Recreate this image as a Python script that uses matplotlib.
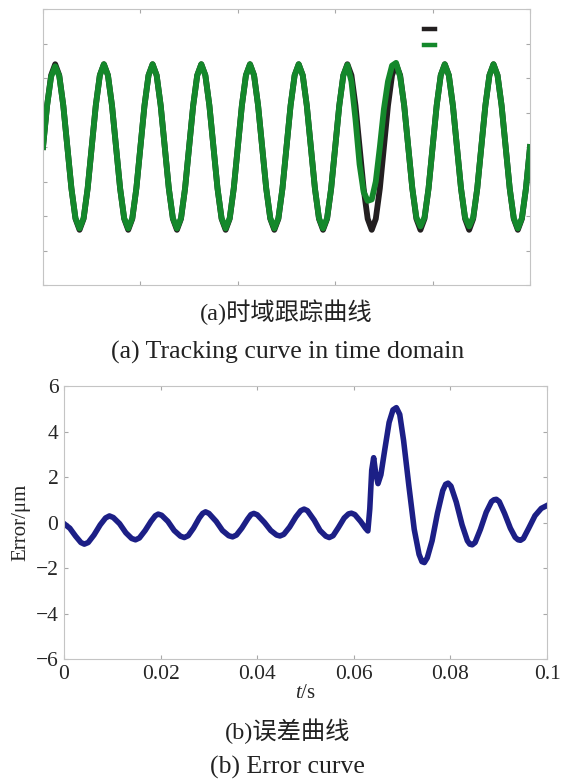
import numpy as np
import matplotlib.pyplot as plt

plt.rcParams['font.family'] = ['Liberation Serif', 'Noto Sans CJK SC']
plt.rcParams['mathtext.fontset'] = 'custom'
plt.rcParams['mathtext.rm'] = 'Liberation Serif'
plt.rcParams['mathtext.it'] = 'Liberation Serif:italic'

# --- (a) tracking in time domain, sampled every 1/1200 s (12 samples per 100 Hz period)
t_track = np.linspace(0, 0.1, 121)
reference = [
    0, 6, 10.4, 12, 10.4, 6, 0, -6, -10.4, -12, -10.4, -6,
    0, 6, 10.4, 12, 10.4, 6, 0, -6, -10.4, -12, -10.4, -6,
    0, 6, 10.4, 12, 10.4, 6, 0, -6, -10.4, -12, -10.4, -6,
    0, 6, 10.4, 12, 10.4, 6, 0, -6, -10.4, -12, -10.4, -6,
    0, 6, 10.4, 12, 10.4, 6, 0, -6, -10.4, -12, -10.4, -6,
    0, 6, 10.4, 12, 10.4, 6, 0, -6, -10.4, -12, -10.4, -6,
    0, 6, 10.4, 12, 10.4, 6, 0, -6, -10.4, -12, -10.4, -6,
    0, 6, 10.4, 12, 10.4, 6, 0, -6, -10.4, -12, -10.4, -6,
    0, 6, 10.4, 12, 10.4, 6, 0, -6, -10.4, -12, -10.4, -6,
    0, 6, 10.4, 12, 10.4, 6, 0, -6, -10.4, -12, -10.4, -6,
    0,
]
tracked = [
    0, 6, 10.2, 11.7, 10.3, 6, 0, -6, -10.3, -11.8, -10.3, -6,
    0, 6, 10.4, 12, 10.4, 6, 0, -6, -10.3, -11.8, -10.3, -6,
    0, 6, 10.4, 12, 10.4, 6, 0, -6, -10.3, -11.8, -10.3, -6,
    0, 6, 10.4, 12, 10.4, 6, 0, -6, -10.3, -11.8, -10.3, -6,
    0, 6, 10.4, 12, 10.4, 6, 0, -6, -10.3, -11.8, -10.3, -6,
    0, 6, 10.4, 12, 10.4, 6, 0, -6, -10.3, -11.8, -10.3, -6,
    0, 6, 10.4, 11.9, 9.5, 4, -2.5, -6.5, -7.8, -7.6, -5, 0,
    5.5, 9.5, 11.8, 12.2, 10.2, 6, 0, -6, -10.2, -11.5, -10.2, -6,
    0, 6, 10.4, 12, 10.4, 6, 0, -6, -10.2, -11.5, -10.2, -6,
    0, 6, 10.4, 12, 10.4, 6, 0, -6, -10.3, -11.8, -10.3, -6,
    0,
]

# --- (b) tracking error
t_err = [
    0.0000, 0.0012, 0.0024, 0.0035, 0.0042, 0.0050, 0.0062, 0.0075, 0.0086, 0.0094,
    0.0102, 0.0115, 0.0128, 0.0140, 0.0148, 0.0156, 0.0168, 0.0180, 0.0189, 0.0195,
    0.0202, 0.0215, 0.0228, 0.0241, 0.0249, 0.0257, 0.0268, 0.0280, 0.0287, 0.0293,
    0.0300, 0.0315, 0.0328, 0.0341, 0.0349, 0.0357, 0.0368, 0.0380, 0.0387, 0.0393,
    0.0400, 0.0415, 0.0428, 0.0440, 0.0447, 0.0455, 0.0467, 0.0480, 0.0490, 0.0497,
    0.0504, 0.0518, 0.0530, 0.0542, 0.0549, 0.0557, 0.0568, 0.0580, 0.0589, 0.0595,
    0.0602, 0.0614, 0.0624, 0.0629, 0.0633, 0.0637, 0.0641, 0.0645, 0.0650, 0.0656,
    0.0664, 0.0673, 0.0681, 0.0688, 0.0695, 0.0703, 0.0714, 0.0725, 0.0735, 0.0741,
    0.0746, 0.0752, 0.0762, 0.0773, 0.0784, 0.0790, 0.0795, 0.0801, 0.0812, 0.0824,
    0.0835, 0.0840, 0.0845, 0.0851, 0.0862, 0.0874, 0.0885, 0.0890, 0.0895, 0.0901,
    0.0912, 0.0924, 0.0934, 0.0940, 0.0945, 0.0951, 0.0962, 0.0975, 0.0988, 0.1000,
]
err_um = [
    -0.05, -0.25, -0.60, -0.88, -0.95, -0.88, -0.55, -0.10, 0.20, 0.29,
    0.22, -0.05, -0.45, -0.70, -0.76, -0.68, -0.35, 0.05, 0.30, 0.37,
    0.32, 0.05, -0.35, -0.60, -0.66, -0.58, -0.25, 0.20, 0.40, 0.47,
    0.40, 0.05, -0.35, -0.58, -0.63, -0.55, -0.25, 0.15, 0.35, 0.40,
    0.34, 0.00, -0.35, -0.55, -0.59, -0.52, -0.20, 0.25, 0.52, 0.59,
    0.52, 0.10, -0.35, -0.60, -0.66, -0.58, -0.22, 0.20, 0.38, 0.41,
    0.35, 0.05, -0.25, -0.37, 0.60, 2.30, 2.85, 2.20, 1.71, 2.10,
    3.20, 4.40, 4.95, 5.05, 4.75, 3.60, 1.60, -0.30, -1.40, -1.72,
    -1.76, -1.55, -0.80, 0.40, 1.40, 1.68, 1.73, 1.60, 0.90, -0.10,
    -0.80, -0.95, -0.98, -0.88, -0.30, 0.45, 0.92, 1.00, 1.02, 0.92,
    0.40, -0.25, -0.65, -0.76, -0.78, -0.70, -0.25, 0.30, 0.62, 0.75,
]
x_ticks = [0, 0.02, 0.04, 0.06, 0.08, 0.1]
x_labels = ['0', '0.02', '0.04', '0.06', '0.08', '0.1']
y_ticks = [-6, -4, -2, 0, 2, 4, 6]

spine_col = '#c4c4c4'
tick_col = '#a8a8a8'
text_col = '#262626'

fig = plt.figure(figsize=(5.63, 7.8), dpi=100)

ax1 = fig.add_axes([0.0764, 0.6346, 0.865, 0.3538])
l_ref, = ax1.plot(t_track, reference, color='#231f20', lw=4.2)
l_out, = ax1.plot(t_track, tracked, color='#14882b', lw=4.2)
ax1.set_xlim(0, 0.1)
ax1.set_ylim(-20, 20)
ax1.set_xticks(x_ticks)
ax1.set_yticks(range(-20, 21, 5))
ax1.tick_params(direction='in', length=3, color=tick_col, top=True, right=True,
                labelleft=False, labelbottom=False)
for s in ax1.spines.values():
    s.set_color(spine_col)
leg = ax1.legend([l_ref, l_out], [' ', ' '], loc='upper left', bbox_to_anchor=(0.768, 0.972),
                 frameon=False, fontsize=10, handlelength=0.8, handletextpad=0.2,
                 labelspacing=0.25, borderpad=0)
for h in leg.get_lines():
    h.set_linewidth(3.2)

ax2 = fig.add_axes([0.1137, 0.1551, 0.858, 0.35])
ax2.plot(t_err, err_um, color='#1c1f86', lw=4.0, solid_joinstyle='round')
ax2.set_xlim(0, 0.1)
ax2.set_ylim(-6, 6)
ax2.set_xticks(x_ticks)
ax2.set_xticklabels(x_labels)
ax2.set_yticks(y_ticks)
ax2.tick_params(direction='in', length=3, color=tick_col, top=True, right=True,
                labelsize=15.5, labelcolor=text_col, pad=4)
for s in ax2.spines.values():
    s.set_color(spine_col)
ax2.set_xlabel('$t$/s', fontsize=15, color=text_col, labelpad=0)
ax2.set_ylabel('Error/μm', fontsize=15, color=text_col, labelpad=4)

# figure captions
fig.text(0.508, 1 - 312 / 780, '(a)时域跟踪曲线', ha='center', va='center',
         fontsize=17.5, color='#222222')
fig.text(0.511, 1 - 352 / 780, '(a) Tracking curve in time domain', ha='center',
         va='center', fontsize=18.5, color='#222222')
fig.text(0.510, 1 - 731 / 780, '(b)误差曲线', ha='center', va='center',
         fontsize=17.5, color='#222222')
fig.text(0.511, 1 - 767 / 780, '(b) Error curve', ha='center', va='center',
         fontsize=18.5, color='#222222')

fig.savefig('out.png', dpi=100)
